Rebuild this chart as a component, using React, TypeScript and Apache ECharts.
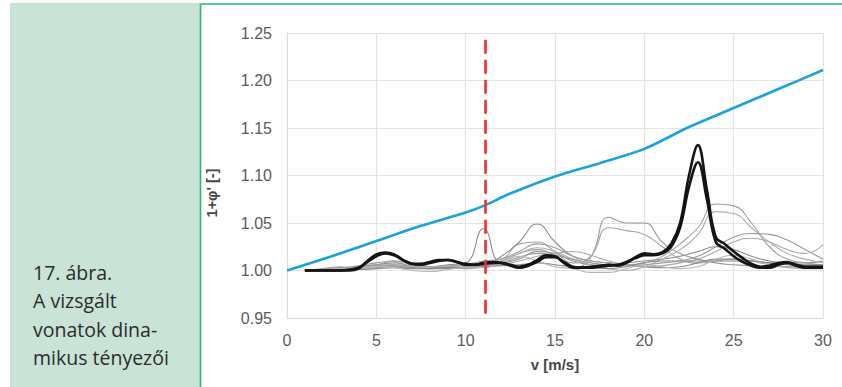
import React, { useEffect, useRef } from "react";
import * as echarts from "echarts";

// speeds [m/s]
const speeds = [1, 2, 3, 4, 5, 6, 7, 8, 9, 10, 11, 12, 13, 14, 15, 16, 17, 18, 19, 20, 21, 22, 23, 24, 25, 26, 27, 28, 29, 30];
const speedsFine = [1, 1.5, 2, 2.5, 3, 3.5, 4, 4.5, 5, 5.5, 6, 6.5, 7, 7.5, 8, 8.5, 9, 9.5, 10, 10.5, 11, 11.5, 12, 12.5, 13, 13.5, 14, 14.5, 15, 15.5, 16, 16.5, 17, 17.5, 18, 18.5, 19, 19.5, 20, 20.5, 21, 21.5, 22, 22.5, 23, 23.5, 24, 24.5, 25, 25.5, 26, 26.5, 27, 27.5, 28, 28.5, 29, 29.5, 30];
const speedsBlue = [0, 2.5, 5, 7.5, 10, 11, 12.5, 15, 17.5, 20, 22.5, 25, 27.5, 30];

// standard (design) dynamic factor curve
const blueValues = [1.0, 1.015, 1.031, 1.047, 1.061, 1.068, 1.081, 1.099, 1.113, 1.128, 1.151, 1.171, 1.191, 1.211];

// measured trains (thin grey)
const grey1 = [1.000, 1.001, 1.003, 1.004, 1.006, 1.008, 1.005, 1.004, 1.006, 1.008, 1.044, 1.008, 1.012, 1.020, 1.018, 1.010, 1.006, 1.005, 1.008, 1.010, 1.012, 1.015, 1.020, 1.025, 1.022, 1.015, 1.010, 1.008, 1.008, 1.010];
const grey2 = [1.000, 1.001, 1.002, 1.005, 1.008, 1.010, 1.007, 1.004, 1.003, 1.002, 1.004, 1.010, 1.018, 1.022, 1.015, 1.003, 1.014, 1.056, 1.050, 1.050, 1.030, 1.018, 1.012, 1.008, 1.006, 1.005, 1.004, 1.004, 1.003, 1.003];
const grey3 = [1.000, 1.002, 1.004, 1.003, 1.006, 1.010, 1.006, 1.003, 1.004, 1.006, 1.010, 1.012, 1.028, 1.030, 1.020, 1.008, 1.015, 1.045, 1.042, 1.038, 1.025, 1.012, 1.008, 1.010, 1.012, 1.010, 1.006, 1.004, 1.005, 1.006];
const grey4 = [1.000, 1.000, 1.002, 1.003, 1.004, 1.006, 1.004, 1.002, 1.002, 1.004, 1.006, 1.015, 1.030, 1.049, 1.030, 1.015, 1.010, 1.008, 1.006, 1.004, 1.003, 1.004, 1.008, 1.012, 1.012, 1.010, 1.008, 1.006, 1.005, 1.005];
const grey5 = [1.000, 1.001, 1.002, 1.004, 1.005, 1.004, 1.003, 1.004, 1.005, 1.006, 1.008, 1.012, 1.020, 1.028, 1.024, 1.015, 1.010, 1.008, 1.006, 1.008, 1.015, 1.028, 1.045, 1.070, 1.068, 1.050, 1.025, 1.012, 1.008, 1.006];
const grey6 = [1.000, 1.000, 1.001, 1.002, 1.003, 1.005, 1.004, 1.003, 1.004, 1.005, 1.006, 1.010, 1.018, 1.024, 1.020, 1.012, 1.006, 1.002, 1.000, 1.004, 1.012, 1.022, 1.038, 1.062, 1.060, 1.045, 1.030, 1.018, 1.012, 1.008];
const grey7 = [1.000, 1.001, 1.003, 1.004, 1.006, 1.005, 1.003, 1.002, 1.003, 1.004, 1.005, 1.008, 1.014, 1.018, 1.016, 1.012, 1.008, 1.006, 1.005, 1.006, 1.008, 1.010, 1.015, 1.025, 1.035, 1.039, 1.038, 1.032, 1.022, 1.012];
const grey8 = [1.000, 1.000, 1.002, 1.003, 1.005, 1.006, 1.005, 1.004, 1.004, 1.003, 1.004, 1.006, 1.010, 1.015, 1.018, 1.020, 1.016, 1.010, 1.006, 1.004, 1.005, 1.008, 1.012, 1.020, 1.030, 1.034, 1.030, 1.022, 1.018, 1.027];
const grey9 = [1.000, 1.000, 1.001, 1.001, 1.002, 1.003, 1.002, 1.002, 1.003, 1.003, 1.004, 1.005, 1.006, 1.008, 1.006, 1.004, 1.003, 1.002, 1.004, 1.008, 1.010, 1.010, 1.010, 1.010, 1.010, 1.010, 1.008, 1.007, 1.006, 1.006];
const grey10 = [1.000, 1.001, 1.002, 1.003, 1.004, 1.003, 1.000, 0.999, 1.001, 1.003, 1.003, 1.008, 1.015, 1.010, 1.004, 1.002, 0.998, 0.998, 1.002, 1.006, 1.004, 1.002, 1.004, 1.012, 1.016, 1.012, 1.006, 1.003, 1.002, 1.002];
const greySeries = [grey1, grey2, grey3, grey4, grey5, grey6, grey7, grey8, grey9, grey10];

// highlighted trains (thick black)
const blackA = [1.000, 1.000, 1.000, 1.000, 1.000, 1.000, 1.002, 1.010, 1.017, 1.019, 1.017, 1.011, 1.007, 1.007, 1.009, 1.011, 1.011, 1.009, 1.006, 1.006, 1.007, 1.008, 1.008, 1.006, 1.004, 1.006, 1.011, 1.016, 1.015, 1.008, 1.003, 1.003, 1.004, 1.005, 1.006, 1.005, 1.008, 1.014, 1.018, 1.017, 1.019, 1.028, 1.050, 1.100, 1.132, 1.085, 1.035, 1.028, 1.020, 1.013, 1.007, 1.004, 1.005, 1.008, 1.009, 1.006, 1.004, 1.004, 1.004];
const blackB = [1.000, 1.000, 1.000, 1.000, 1.000, 1.001, 1.003, 1.009, 1.015, 1.018, 1.016, 1.011, 1.007, 1.006, 1.008, 1.010, 1.011, 1.009, 1.007, 1.006, 1.008, 1.009, 1.008, 1.005, 1.003, 1.005, 1.009, 1.014, 1.014, 1.009, 1.004, 1.003, 1.003, 1.004, 1.005, 1.006, 1.009, 1.013, 1.016, 1.016, 1.018, 1.025, 1.045, 1.088, 1.114, 1.075, 1.030, 1.023, 1.015, 1.009, 1.005, 1.003, 1.003, 1.006, 1.008, 1.005, 1.003, 1.003, 1.003];

const yTicks = ["0.95", "1.00", "1.05", "1.10", "1.15", "1.20", "1.25"];
const xTicks = ["0", "5", "10", "15", "20", "25", "30"];
const markerSpeed = 11.1;

const captionLines = ["17. ábra.", "A vizsgált", "vonatok dina-", "mikus tényezői"];
const greyColors = ["#8c8c8c", "#9a9a9a", "#a5a5a5", "#8f8f8f", "#a0a0a0", "#b0b0b0", "#999999", "#a8a8a8", "#888888", "#b5b5b5"];

const zip = (xs: number[], ys: number[]) => ys.map((y, i) => [xs[i], y]);

export default function App() {
  const ref = useRef<HTMLDivElement>(null);
  useEffect(() => {
    const chart = echarts.init(ref.current!, null, { renderer: "svg" });
    const series: any[] = [];
    greySeries.forEach((g, i) => {
      series.push({
        type: "line",
        data: zip(speeds, g),
        smooth: 0.5,
        showSymbol: false,
        lineStyle: { color: greyColors[i], width: 1.1 },
        z: 2,
      });
    });
    series.push({
      type: "line",
      data: zip(speedsFine, blackB),
      smooth: 0.4,
      showSymbol: false,
      lineStyle: { color: "#141414", width: 2.6 },
      z: 3,
    });
    series.push({
      type: "line",
      data: zip(speedsFine, blackA),
      smooth: 0.4,
      showSymbol: false,
      lineStyle: { color: "#141414", width: 2.6 },
      z: 3,
    });
    series.push({
      type: "line",
      data: zip(speedsBlue, blueValues),
      smooth: 0.3,
      showSymbol: false,
      lineStyle: { color: "#1ba1dc", width: 2.6 },
      z: 4,
      markLine: {
        silent: true,
        symbol: "none",
        label: { show: false },
        lineStyle: { color: "#e8322b", width: 2.6, type: [14, 6] },
        data: [[{ coord: [markerSpeed, 1.243] }, { coord: [markerSpeed, 0.95] }]],
      },
    });

    chart.setOption({
      animation: false,
      backgroundColor: "#ffffff",
      grid: { left: 287, right: 19, top: 33, bottom: 69 },
      xAxis: {
        type: "value",
        min: 0,
        max: 30,
        interval: 5,
        name: "v [m/s]",
        nameLocation: "middle",
        nameGap: 39,
        nameTextStyle: { fontFamily: "Liberation Sans", fontSize: 15, fontWeight: "bold", color: "#454545" },
        axisLine: { show: true, lineStyle: { color: "#e6d8d6", width: 1 } },
        axisTick: { show: false },
        splitLine: { show: true, lineStyle: { color: "#e8e2e0", width: 1.2 } },
        axisLabel: {
          margin: 14,
          fontFamily: "Liberation Sans",
          fontSize: 16,
          color: "#5a5a5a",
          formatter: (v: number) => xTicks[Math.round(v / 5)] ?? String(v),
        },
      },
      yAxis: {
        type: "value",
        min: 0.95,
        max: 1.25,
        interval: 0.05,
        axisLine: { show: true, lineStyle: { color: "#e6d8d6", width: 1 } },
        axisTick: { show: false },
        splitLine: { show: true, lineStyle: { color: "#e8e2e0", width: 1.2 } },
        axisLabel: {
          margin: 15,
          fontFamily: "Liberation Sans",
          fontSize: 16,
          color: "#5a5a5a",
          formatter: (v: number) => yTicks[Math.round((v - 0.95) / 0.05)] ?? v.toFixed(2),
        },
      },
      graphic: [
        { type: "rect", shape: { x: 10, y: 3, width: 190, height: 384 }, style: { fill: "#c9e3d7" }, silent: true },
        { type: "line", shape: { x1: 200.5, y1: 3, x2: 200.5, y2: 387 }, style: { stroke: "#2fb07e", lineWidth: 1.6 }, silent: true },
        { type: "line", shape: { x1: 200, y1: 4, x2: 842, y2: 4 }, style: { stroke: "#5cc39a", lineWidth: 1.8 }, silent: true },
        {
          type: "text",
          x: 33,
          y: 258,
          style: {
            text: captionLines.join("\n"),
            fontFamily: "Open Sans",
            fontSize: 19.5,
            lineHeight: 28.5,
            fill: "#2b2b2b",
          },
          silent: true,
        },
        {
          type: "text",
          x: 212,
          y: 193,
          rotation: Math.PI / 2,
          style: {
            text: "1+φ' [-]",
            fontFamily: "Liberation Sans",
            fontSize: 14.5,
            fontWeight: "bold",
            fill: "#454545",
            align: "center",
            verticalAlign: "middle",
          },
          silent: true,
        },
      ],
      series,
    });
    return () => chart.dispose();
  }, []);
  return <div ref={ref} style={{ position: "absolute", left: 0, top: 0, width: 842, height: 387 }} />;
}
